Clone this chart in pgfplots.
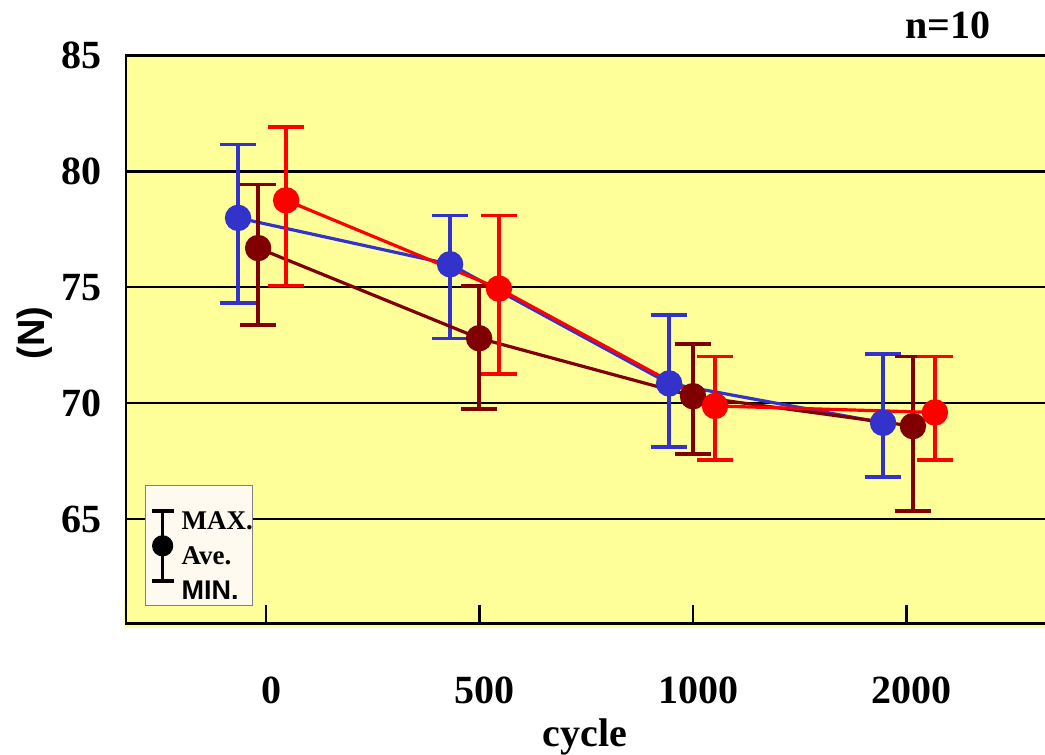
\documentclass[border=0pt]{standalone}
\usepackage{fontspec}
\setmainfont{Liberation Serif}
\setsansfont{Liberation Sans}
\usepackage{pgfplots}
\usepackage{pgfplotstable}
\pgfplotsset{compat=1.18}

\definecolor{plotbg}{HTML}{FFFF99}
\definecolor{serA}{HTML}{3333CC}
\definecolor{serB}{HTML}{800000}
\definecolor{serC}{HTML}{FF0000}
\definecolor{keybg}{HTML}{FFFAF0}

% x: category index (0 -> 0, 1 -> 500, 2 -> 1000, 3 -> 2000 cycles),
% each series shifted a little so the bars do not overlap
\pgfplotstableread{
x      ave    max    min
-0.131 77.99  81.15  74.31
0.862  75.99  78.10  72.79
1.888  70.85  73.81  68.12
2.890  69.15  72.12  66.81
}\serAdata
\pgfplotstableread{
x      ave    max    min
-0.037 76.69  79.44  73.36
0.998  72.80  75.05  69.74
2.000  70.30  72.56  67.80
3.030  69.01  72.01  65.36
}\serBdata
\pgfplotstableread{
x      ave    max    min
0.094  78.75  81.91  75.07
1.091  74.94  78.10  71.26
2.103  69.88  72.01  67.54
3.133  69.60  72.01  67.54
}\serCdata

\pgfplotsset{
  series/.style={
    color=#1, line width=3.2pt, mark=*, mark size=11.6pt,
    mark options={solid, fill=#1, draw=#1},
    error bars/y dir=both, error bars/y explicit,
    error bars/error bar style={color=#1, line width=3.6pt},
    error bars/error mark options={rotate=90, mark size=18pt, color=#1, line width=3.6pt}
  }
}

\begin{document}
\begin{tikzpicture}[x=1pt, y=1pt]
\path[use as bounding box] (0,0) rectangle (1045,-755);
\clip (0,0) rectangle (1045,-755);
\fill[plotbg] (124,-628) rectangle (1045,-600);
\begin{axis}[
  at={(126pt,-623.4pt)}, anchor=south west,
  scale only axis, width=924pt, height=568pt,
  xmin=-0.656, xmax=3.672, ymin=60.5, ymax=85,
  axis background/.style={fill=plotbg},
  xtick={0,1,2,3}, xticklabels={0,500,1000,2000},
  ytick={65,70,75,80,85},
  ymajorgrids, grid style={black, line width=2.4pt},
  axis line style={black, line width=2.6pt},
  tick align=inside, tick pos=left, major tick length=18pt,
  xtick style={black, line width=2.8pt},
  ytick style={draw=none},
  tick label style={font=\fontsize{40}{48}\selectfont\bfseries},
  /pgf/number format/assume math mode=true,
  xticklabel style={anchor=north, inner sep=0pt, yshift=-53pt, xshift=5pt},
  yticklabel style={anchor=east, inner sep=0pt, xshift=-24pt},
  xlabel={cycle},
  xlabel style={at={(axis description cs:0.4968,-0.2159)}, anchor=base,
    inner sep=0pt, font=\fontsize{40}{48}\selectfont\bfseries},
  ylabel={(N)},
  ylabel style={at={(axis description cs:-0.0985,0.511)}, anchor=center,
    inner sep=0pt, font=\sffamily\bfseries\fontsize{38}{40}\selectfont},
  legend style={at={(0.0206,0.0299)}, anchor=south west, fill=keybg,
    draw=gray, line width=1.2pt, inner xsep=0pt, inner ysep=0pt,
    font=\fontsize{27}{35}\selectfont\bfseries,
    nodes={inner sep=0pt, text depth=0pt},
    /tikz/every even column/.append style={column sep=0pt}},
]
\addlegendimage{legend image code/.code={
  \path[draw=none, fill=none] (-17pt,-60pt) rectangle (19pt,60pt);
  \draw[black, line width=3.6pt] (0pt,-35pt) -- (0pt,35pt)
    (-11pt,35pt) -- (11pt,35pt) (-11pt,-35pt) -- (11pt,-35pt);
  \fill[black] (0pt,0pt) circle (10pt);
}}
\addlegendentry{\raisebox{22pt}{\begin{tabular}{@{}l@{}}MAX.\\Ave.\\\textsf{MIN.}\end{tabular}}}

\addplot[series=serA] table[x=x, y=ave,
  y error plus expr=\thisrow{max}-\thisrow{ave},
  y error minus expr=\thisrow{ave}-\thisrow{min}] {\serAdata};
\addplot[series=serB] table[x=x, y=ave,
  y error plus expr=\thisrow{max}-\thisrow{ave},
  y error minus expr=\thisrow{ave}-\thisrow{min}] {\serBdata};
\addplot[series=serC] table[x=x, y=ave,
  y error plus expr=\thisrow{max}-\thisrow{ave},
  y error minus expr=\thisrow{ave}-\thisrow{min}] {\serCdata};
\end{axis}
\node[font=\fontsize{40}{48}\selectfont\bfseries, anchor=base] at (948,-38) {n=10};
\end{tikzpicture}
\end{document}
